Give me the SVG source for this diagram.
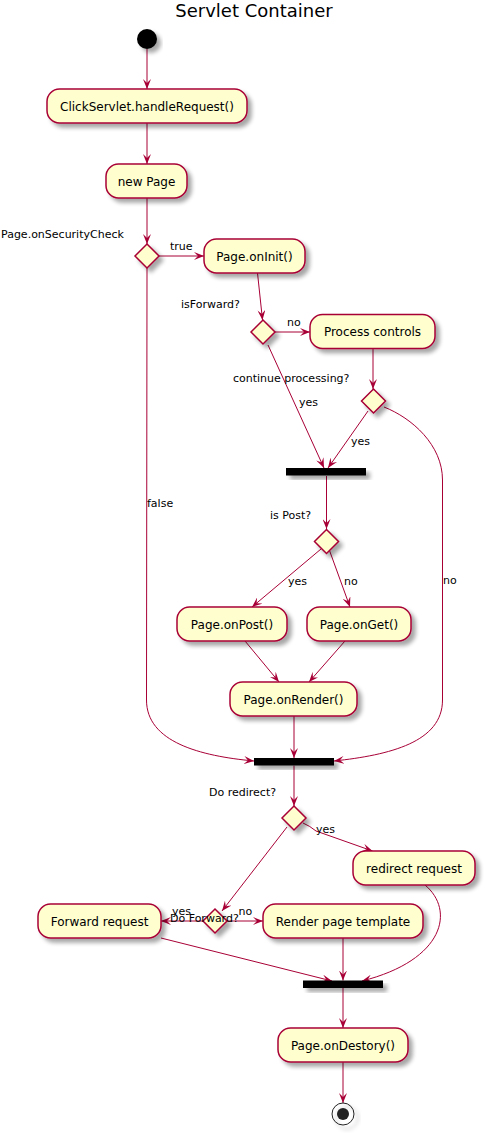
<svg xmlns="http://www.w3.org/2000/svg" width="485" height="1133" viewBox="0 0 485 1133">
<defs>
<filter id="sh" x="-20%" y="-20%" width="150%" height="180%">
<feGaussianBlur in="SourceAlpha" stdDeviation="2"/>
<feOffset dx="4" dy="4" result="b"/>
<feComponentTransfer><feFuncA type="linear" slope="0.35"/></feComponentTransfer>
<feMerge><feMergeNode/><feMergeNode in="SourceGraphic"/></feMerge>
</filter>
<marker id="ah" markerUnits="userSpaceOnUse" markerWidth="10" markerHeight="8" refX="10" refY="4" orient="auto">
<path d="M0,0 L10,4 L0,8 L4,4 Z" fill="#A80036"/>
</marker>
</defs>
<style>
.box{fill:#FEFECE;stroke:#A80036;stroke-width:1.5;filter:url(#sh)}
.dia{fill:#FEFECE;stroke:#A80036;stroke-width:1.5;filter:url(#sh)}
.bar{fill:#000;filter:url(#sh)}
.t{font-family:"DejaVu Sans",sans-serif;font-size:12px;fill:#000;text-anchor:middle}
.l{font-family:"DejaVu Sans",sans-serif;font-size:11px;fill:#000}
.e{fill:none;stroke:#A80036;stroke-width:1;marker-end:url(#ah)}
</style>
<rect width="485" height="1133" fill="#fff"/>
<text x="254" y="17" font-family="DejaVu Sans, sans-serif" font-size="18" text-anchor="middle">Servlet Container</text>

<g id="connectors">
<path class="e" d="M147,49 L147,89"/>
<path class="e" d="M147,123 L147,164"/>
<path class="e" d="M147,198 L147,244"/>
<path class="e" d="M159,256 L204,256"/>
<path class="e" d="M257.5,273 L262.5,320"/>
<path class="e" d="M275,332 L310,332"/>
<path class="e" d="M373,349 L373,389"/>
<path class="e" d="M268,345 L324,468"/>
<path class="e" d="M368,411 L328,468"/>
<path class="e" d="M384,407 C412,418 442.5,445 442.5,480 L442.5,700 C442.5,742 390,755 334,761"/>
<path class="e" d="M147,268 L146.5,700 C146.5,742 200,756 254,761"/>
<path class="e" d="M326.5,476 L326.5,529"/>
<path class="e" d="M321,549 L252,607"/>
<path class="e" d="M329.5,550.5 L350,607"/>
<path class="e" d="M245,641 L279,682"/>
<path class="e" d="M345,641 L309,682"/>
<path class="e" d="M294,716 L294,758"/>
<path class="e" d="M294,765.5 L294,806"/>
<path class="e" d="M303,823 Q310,826 316,831 L372.5,851"/>
<path class="e" d="M287,827 L222,911"/>
<path class="e" d="M203,921 L161,921"/>
<path class="e" d="M227,921 L263,921"/>
<path class="e" d="M161,938 L332,981"/>
<path class="e" d="M343,938 L343,980.5"/>
<path class="e" d="M425,885 C455,910 445,960 362,981"/>
<path class="e" d="M343,987.5 L343,1028"/>
<path class="e" d="M343,1062 L343,1103"/>
<text class="l" x="170" y="250">true</text>
<text class="l" x="287" y="326">no</text>
<text class="l" x="299" y="406">yes</text>
<text class="l" x="351" y="445">yes</text>
<text class="l" x="443" y="584">no</text>
<text class="l" x="147" y="507">false</text>
<text class="l" x="288" y="585">yes</text>
<text class="l" x="344" y="585">no</text>
<text class="l" x="316" y="833">yes</text>
<text class="l" x="172" y="915">yes</text>
<text class="l" x="238.5" y="915">no</text>
</g>

<g id="start"><circle cx="147" cy="39" r="10" fill="#000" filter="url(#sh)"/></g>
<g id="handleRequest"><rect class="box" x="47" y="89" width="200" height="34" rx="12.5"/><text class="t" x="147" y="110.5">ClickServlet.handleRequest()</text></g>
<g id="newPage"><rect class="box" x="106" y="164" width="81" height="34" rx="12.5"/><text class="t" x="146.5" y="185.5">new Page</text></g>
<g id="securityCheck"><polygon class="dia" points="147,244 159,256 147,268 135,256"/><text class="l" x="1" y="237.5">Page.onSecurityCheck</text></g>
<g id="onInit"><rect class="box" x="204" y="239" width="101" height="34" rx="12.5"/><text class="t" x="254.5" y="260.5">Page.onInit()</text></g>
<g id="isForward"><polygon class="dia" points="263,320 275,332 263,344 251,332"/><text class="l" x="181" y="308">isForward?</text></g>
<g id="processControls"><rect class="box" x="310" y="314.5" width="125" height="34" rx="12.5"/><text class="t" x="372.5" y="336">Process controls</text></g>
<g id="continueProcessing"><polygon class="dia" points="373.5,389 385.5,401 373.5,413 361.5,401"/><text class="l" x="233" y="382">continue processing?</text></g>
<g id="bar1"><rect class="bar" x="286" y="468" width="80" height="7.5"/></g>
<g id="isPost"><polygon class="dia" points="326.5,529.5 338.5,541.5 326.5,553.5 314.5,541.5"/><text class="l" x="270" y="519">is Post?</text></g>
<g id="onPost"><rect class="box" x="177" y="607" width="110" height="34" rx="12.5"/><text class="t" x="232" y="628.5">Page.onPost()</text></g>
<g id="onGet"><rect class="box" x="307" y="607" width="104" height="34" rx="12.5"/><text class="t" x="359" y="628.5">Page.onGet()</text></g>
<g id="onRender"><rect class="box" x="230" y="682" width="127" height="34" rx="12.5"/><text class="t" x="293.5" y="703.5">Page.onRender()</text></g>
<g id="bar2"><rect class="bar" x="254" y="758" width="80" height="7.5"/></g>
<g id="doRedirect"><polygon class="dia" points="294,806 306,818 294,830 282,818"/><text class="l" x="209" y="796">Do redirect?</text></g>
<g id="redirectRequest"><rect class="box" x="353" y="851" width="122" height="34" rx="12.5"/><text class="t" x="414" y="872.5">redirect request</text></g>
<g id="doForward"><polygon class="dia" points="215,909 227,921 215,933 203,921"/><text class="l" x="170" y="922">Do Forward?</text></g>
<g id="forwardRequest"><rect class="box" x="38" y="904" width="123" height="34" rx="12.5"/><text class="t" x="99.5" y="925.5">Forward request</text></g>
<g id="renderTemplate"><rect class="box" x="263" y="904" width="160" height="34" rx="12.5"/><text class="t" x="343" y="925.5">Render page template</text></g>
<g id="bar3"><rect class="bar" x="303" y="980.5" width="80" height="7.5"/></g>
<g id="onDestory"><rect class="box" x="278" y="1028" width="130" height="34" rx="12.5"/><text class="t" x="343" y="1049.5">Page.onDestory()</text></g>
<g id="end"><circle cx="343" cy="1114" r="11" fill="none" stroke="#222" stroke-width="1" filter="url(#sh)"/><circle cx="343" cy="1114" r="6" fill="#222"/></g>
</svg>
